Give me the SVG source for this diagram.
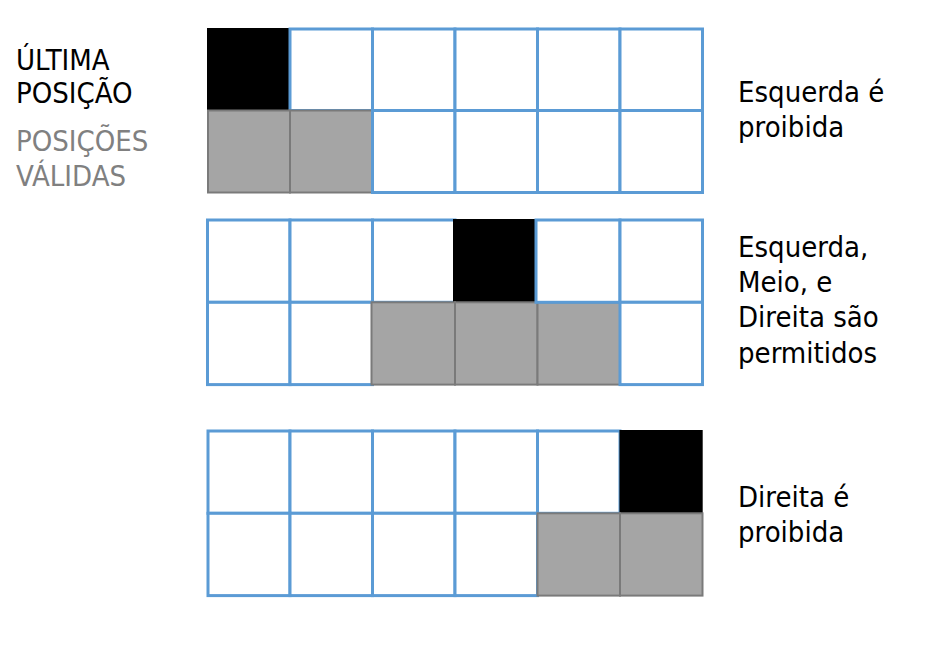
<svg xmlns="http://www.w3.org/2000/svg" width="943" height="645" viewBox="0 0 943 645">
<style>
.b{fill:#fff;stroke:#5B9BD5;stroke-width:3}
.g{fill:#A5A5A5;stroke:#7A7A7A;stroke-width:2}
.k{fill:#000}
.t{font-family:"DejaVu Sans Condensed","DejaVu Sans",sans-serif;font-stretch:condensed;font-size:29px;fill:#000}
.tg{fill:#808080}
</style>
<rect width="943" height="645" fill="#fff"/>
<g id="legend">
<text class="t" x="16" y="70">ÚLTIMA</text>
<text class="t" x="16" y="103">POSIÇÃO</text>
<text class="t tg" x="16" y="151">POSIÇÕES</text>
<text class="t tg" x="16" y="186">VÁLIDAS</text>
</g>
<g id="grid1">
<rect class="k" x="207" y="28" width="83" height="82"/>
<rect class="b" x="290" y="29" width="82.5" height="81.5"/>
<rect class="g" x="208" y="110.5" width="82" height="82"/>
<rect class="g" x="290" y="110.5" width="82.5" height="82"/>
<rect class="b" x="372.5" y="29" width="82.5" height="81.5"/>
<rect class="b" x="455" y="29" width="82.5" height="81.5"/>
<rect class="b" x="537.5" y="29" width="82.5" height="81.5"/>
<rect class="b" x="620" y="29" width="82.5" height="81.5"/>
<rect class="b" x="372.5" y="110.5" width="82.5" height="82"/>
<rect class="b" x="455" y="110.5" width="82.5" height="82"/>
<rect class="b" x="537.5" y="110.5" width="82.5" height="82"/>
<rect class="b" x="620" y="110.5" width="82.5" height="82"/>
</g>
<g id="label1">
<text class="t" x="738" y="102">Esquerda é</text>
<text class="t" x="738" y="137">proibida</text>
</g>
<g id="grid2">
<rect class="b" x="207.5" y="220" width="82.5" height="82.3"/>
<rect class="b" x="290" y="220" width="82.5" height="82.3"/>
<rect class="b" x="372.5" y="220" width="82.5" height="82.3"/>
<rect class="b" x="207.5" y="302.3" width="82.5" height="82.3"/>
<rect class="b" x="290" y="302.3" width="82.5" height="82.3"/>
<rect class="k" x="453" y="219" width="82" height="83"/>
<rect class="g" x="371.5" y="302.3" width="83.5" height="82.3"/>
<rect class="g" x="455" y="302.3" width="82.5" height="82.3"/>
<rect class="g" x="537.5" y="302.3" width="82.5" height="82.3"/>
<rect class="b" x="536" y="220" width="84" height="82.3"/>
<rect class="b" x="620" y="220" width="82.5" height="82.3"/>
<rect class="b" x="620" y="302.3" width="82.5" height="82.3"/>
</g>
<g id="label2">
<text class="t" x="738" y="257">Esquerda,</text>
<text class="t" x="738" y="292">Meio, e</text>
<text class="t" x="738" y="327">Direita são</text>
<text class="t" x="738" y="363">permitidos</text>
</g>
<g id="grid3">
<rect class="b" x="208" y="431" width="82" height="82.3"/>
<rect class="b" x="290" y="431" width="82.5" height="82.3"/>
<rect class="b" x="372.5" y="431" width="82.5" height="82.3"/>
<rect class="b" x="455" y="431" width="82.5" height="82.3"/>
<rect class="b" x="537.5" y="431" width="82.5" height="82.3"/>
<rect class="b" x="208" y="513.3" width="82" height="82.3"/>
<rect class="b" x="290" y="513.3" width="82.5" height="82.3"/>
<rect class="b" x="372.5" y="513.3" width="82.5" height="82.3"/>
<rect class="b" x="455" y="513.3" width="82.5" height="82.3"/>
<rect class="k" x="619.5" y="430" width="83.2" height="83"/>
<rect class="g" x="537.5" y="513.3" width="82.5" height="82.3"/>
<rect class="g" x="620" y="513.3" width="82.5" height="82.3"/>
</g>
<g id="label3">
<text class="t" x="738" y="507">Direita é</text>
<text class="t" x="738" y="542">proibida</text>
</g>
</svg>
